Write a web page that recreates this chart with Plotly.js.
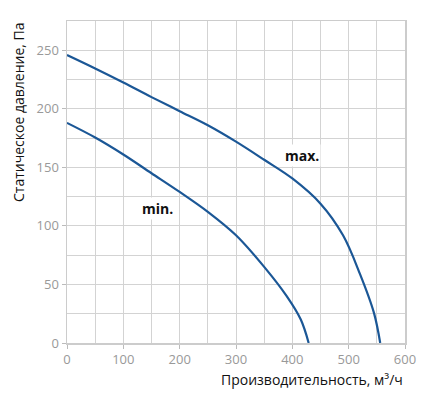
<!DOCTYPE html>
<html>
<head>
<meta charset="utf-8">
<script src="https://cdn.plot.ly/plotly-3.0.1.min.js"></script>
<style>html,body{margin:0;padding:0;background:#fff;}#chart{width:422px;height:405px;}</style>
</head>
<body>
<div id="chart"></div>
<script>
const maxFlow = [0, 50, 100, 150, 200, 250, 300, 350, 400, 450, 490, 520, 545, 556];
const maxPressure = [246, 234.5, 222.5, 210, 198, 186, 172, 156.5, 140.5, 119, 92, 59, 25.5, 0];
const minFlow = [0, 50, 100, 150, 200, 250, 300, 350, 390, 415, 429];
const minPressure = [188, 175.5, 161, 145, 129, 112, 92, 65, 40, 20, 0];
const xTicks = [0, 100, 200, 300, 400, 500, 600];
const yTicks = [0, 50, 100, 150, 200, 250];
const labelMax = {text: 'max.', x: 417, y: 160.5};
const labelMin = {text: 'min.', x: 161, y: 115};
const xTitle = 'Производительность, м³/ч';
const yTitle = 'Статическое давление, Па';

const lineStyle = {color: '#1b5796', width: 2.2, shape: 'spline', smoothing: 1};
const traces = [
  {x: maxFlow, y: maxPressure, mode: 'lines', line: lineStyle, hoverinfo: 'skip'},
  {x: minFlow, y: minPressure, mode: 'lines', line: lineStyle, hoverinfo: 'skip'}
];
const tickFont = {family: 'Open Sans, Noto Sans, sans-serif', size: 13, color: '#999999'};
const layout = {
  width: 422, height: 405,
  margin: {l: 67, r: 17, t: 21, b: 62},
  showlegend: false,
  paper_bgcolor: '#ffffff', plot_bgcolor: '#ffffff',
  xaxis: {
    range: [0, 600], tickvals: xTicks, ticktext: xTicks.map(String),
    showgrid: true, gridcolor: '#d3d3d3', gridwidth: 1,
    minor: {dtick: 50, tick0: 0, showgrid: true, gridcolor: '#d3d3d3', gridwidth: 1},
    showline: true, linecolor: '#cccccc', linewidth: 1.5, mirror: true,
    ticks: 'outside', ticklen: 4, tickcolor: '#bbbbbb',
    tickfont: tickFont, zeroline: false, fixedrange: true
  },
  yaxis: {
    range: [0, 275], tickvals: yTicks, ticktext: yTicks.map(String),
    showgrid: true, gridcolor: '#d3d3d3', gridwidth: 1,
    minor: {dtick: 25, tick0: 0, showgrid: true, gridcolor: '#d3d3d3', gridwidth: 1},
    showline: true, linecolor: '#cccccc', linewidth: 1.5, mirror: true,
    ticks: 'outside', ticklen: 4, tickcolor: '#bbbbbb',
    tickfont: tickFont, zeroline: false, fixedrange: true
  },
  annotations: [
    {x: labelMax.x, y: labelMax.y, xref: 'x', yref: 'y', text: '<b>' + labelMax.text + '</b>', showarrow: false,
     font: {family: 'Open Sans, Noto Sans, sans-serif', size: 14, color: '#111111'}, bgcolor: '#ffffff'},
    {x: labelMin.x, y: labelMin.y, xref: 'x', yref: 'y', text: '<b>' + labelMin.text + '</b>', showarrow: false,
     font: {family: 'Open Sans, Noto Sans, sans-serif', size: 14, color: '#111111'}, bgcolor: '#ffffff'},
    {x: 1, y: 0, xref: 'paper', yref: 'paper', xanchor: 'right', yanchor: 'top', yshift: -25,
     text: xTitle, showarrow: false, font: {family: 'Open Sans, Noto Sans, sans-serif', size: 14, color: '#111111'}},
    {x: 0, y: 1, xref: 'paper', yref: 'paper', xanchor: 'right', yanchor: 'top', xshift: -37,
     textangle: -90, text: yTitle, showarrow: false, font: {family: 'Open Sans, Noto Sans, sans-serif', size: 14, color: '#111111'}}
  ]
};
Plotly.newPlot('chart', traces, layout, {displayModeBar: false, staticPlot: true});
</script>
</body>
</html>
